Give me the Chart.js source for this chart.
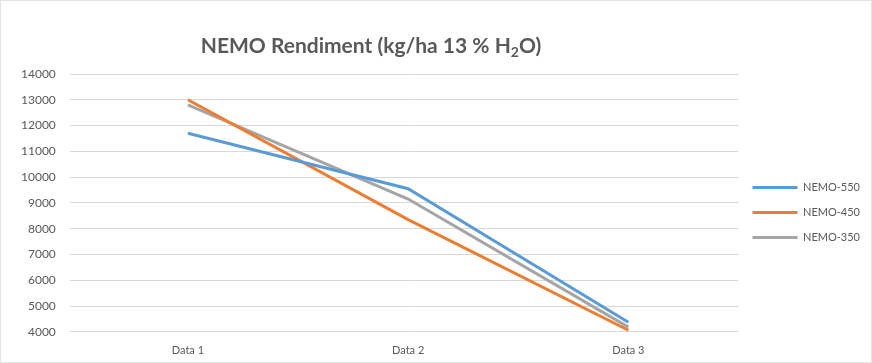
<!DOCTYPE html>
<html>
<head>
<meta charset="utf-8">
<script src="https://cdn.jsdelivr.net/npm/chart.js@4.4.0/dist/chart.umd.min.js"></script>
<style>
  html, body { margin: 0; padding: 0; background: #fff; }
  #wrap { position: relative; width: 872px; height: 363px; box-sizing: border-box; border: 1px solid #e4e4e4; }
</style>
</head>
<body>
<div id="wrap"><canvas id="rendiment"></canvas></div>
<script>
var BLUE = "#5b9bd5";
var ORANGE = "#ed7d31";
var GREY = "#a5a5a5";
var TEXT = "#595959";

let TITLE = ["NEMO Rendiment (kg/ha 13 % H", "2", "O)"];
let LABELS = ["Data 1", "Data 2", "Data 3"];
let NEMO_550 = [11700, 9550, 4370];
let NEMO_450 = [13000, 8350, 4060];
let NEMO_350 = [12800, 9150, 4180];

function line(name, values, color) {
  return {
    label: name,
    data: values,
    borderColor: color,
    backgroundColor: color,
    borderWidth: 3,
    pointRadius: 0,
    tension: 0
  };
}

// title with a real subscript, the built-in title can't do that
var subTitle = {
  id: 'subTitle',
  afterDraw: function (chart) {
    var c = chart.ctx;
    var big = 'bold 21px Lato', small = 'bold 14px Lato';
    c.save();
    c.fillStyle = TEXT;
    c.textBaseline = 'alphabetic';
    c.font = big;
    var w0 = c.measureText(TITLE[0]).width, w2 = c.measureText(TITLE[2]).width;
    c.font = small;
    var w1 = c.measureText(TITLE[1]).width;
    var x = 370 - (w0 + w1 + w2) / 2, y = 52;
    c.font = big; c.fillText(TITLE[0], x, y);
    c.font = small; c.fillText(TITLE[1], x + w0, y + 4);
    c.font = big; c.fillText(TITLE[2], x + w0 + w1, y);
    c.restore();
  }
};

var ctx = document.getElementById("rendiment").getContext('2d');
var lineChart = new Chart(ctx, {
  type: 'line',
  data: {
    labels: LABELS,
    datasets: [
      line("NEMO-550", NEMO_550, BLUE),
      line("NEMO-450", NEMO_450, ORANGE),
      line("NEMO-350", NEMO_350, GREY)
    ]
  },
  plugins: [subTitle],
  options: {
    responsive: true,
    maintainAspectRatio: false,
    animation: false,
    layout: { padding: { left: 6, right: 1, top: 73, bottom: 1 } },
    plugins: {
      legend: {
        position: 'right',
        align: 'start',
        title: { display: true, text: '', font: { size: 10 }, padding: { top: 0, bottom: 82 } },
        labels: {
          boxWidth: 45,
          boxHeight: 0,
          padding: 14,
          color: TEXT,
          font: { family: "Lato", size: 11 }
        }
      },
      tooltip: { enabled: false }
    },
    scales: {
      x: {
        offset: true,
        grid: { display: false },
        border: { display: false },
        ticks: { color: TEXT, font: { family: "Lato", size: 11 }, padding: 4 }
      },
      y: {
        min: 4000,
        max: 14000,
        grid: { color: "#d9d9d9", lineWidth: 1 },
        border: { display: false },
        ticks: {
          stepSize: 1000,
          color: TEXT,
          font: { family: "Lato", size: 12 },
          padding: 14,
          callback: function (v) { return String(v); }
        }
      }
    }
  }
});
</script>
</body>
</html>
